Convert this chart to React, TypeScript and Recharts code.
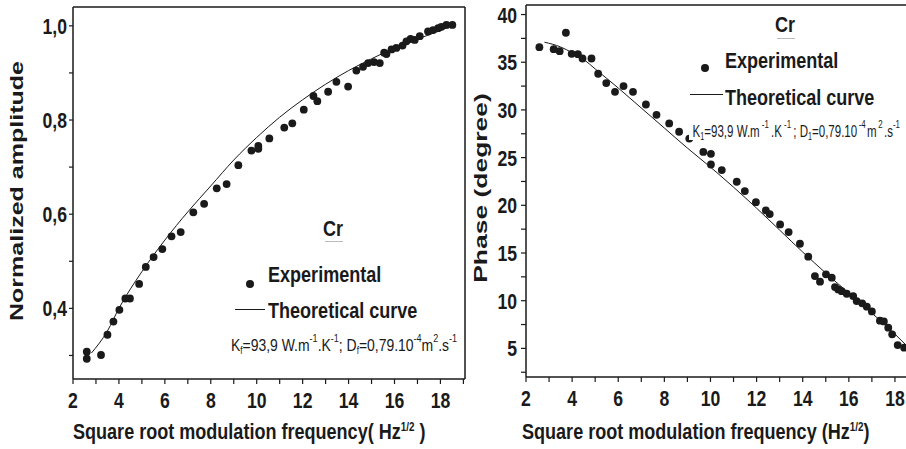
import React from 'react';
import { ComposedChart, Scatter, Line, XAxis, YAxis, ReferenceLine } from 'recharts';

// Normalized amplitude vs sqrt(f)
const ampX = [2.6, 2.6, 3.22, 3.5, 3.76, 4.02, 4.28, 4.48, 4.88, 5.17, 5.51, 5.89, 6.29, 6.69, 7.24, 7.71, 8.26, 8.69, 9.2, 9.77, 10.07, 10.07, 10.55, 11.2, 11.55, 12.05, 12.47, 12.64, 13.11, 13.47, 13.98, 14.34, 14.63, 14.85, 15.11, 15.36, 15.55, 15.65, 15.87, 16.08, 16.35, 16.52, 16.7, 16.88, 17.1, 17.46, 17.68, 17.9, 18.04, 18.26, 18.52];
const ampY = [0.308, 0.293, 0.301, 0.344, 0.372, 0.397, 0.421, 0.421, 0.452, 0.488, 0.509, 0.526, 0.553, 0.562, 0.604, 0.622, 0.655, 0.664, 0.704, 0.735, 0.745, 0.739, 0.761, 0.784, 0.793, 0.822, 0.851, 0.84, 0.86, 0.881, 0.871, 0.905, 0.913, 0.921, 0.923, 0.921, 0.943, 0.94, 0.95, 0.953, 0.958, 0.967, 0.972, 0.97, 0.978, 0.988, 0.991, 0.995, 0.998, 1.002, 1.002];
const ampCurveX = [2.8, 3.5, 4, 5, 6, 7, 8, 9, 10, 11, 12, 13, 14, 15, 16, 17, 18, 18.5];
const ampCurveY = [0.305, 0.352, 0.4, 0.478, 0.545, 0.605, 0.66, 0.715, 0.763, 0.806, 0.843, 0.876, 0.905, 0.93, 0.953, 0.972, 0.99, 1.0];

// Phase vs sqrt(f)
const phaseX = [2.58, 3.2, 3.46, 3.73, 3.98, 4.25, 4.45, 4.84, 5.13, 5.48, 5.86, 6.23, 6.64, 7.2, 7.66, 8.21, 8.64, 9.08, 9.69, 10.02, 10.02, 10.49, 11.14, 11.49, 11.97, 12.4, 12.57, 13.02, 13.39, 13.88, 14.24, 14.53, 14.75, 15.01, 15.26, 15.4, 15.54, 15.69, 15.91, 16.19, 16.34, 16.58, 16.78, 17.0, 17.35, 17.52, 17.71, 17.88, 18.12, 18.4];
const phaseY = [36.58, 36.37, 36.16, 38.09, 35.88, 35.84, 35.39, 35.39, 33.79, 32.81, 31.9, 32.5, 31.9, 30.57, 29.49, 28.58, 27.71, 27.0, 25.6, 25.4, 24.28, 23.69, 22.47, 21.49, 20.33, 19.46, 19.08, 18.0, 17.19, 15.97, 14.61, 12.58, 11.99, 12.76, 12.41, 11.43, 11.18, 11.0, 10.73, 10.48, 9.96, 9.72, 9.37, 8.88, 7.9, 7.83, 7.17, 6.47, 5.35, 5.07];
const phaseCurveX = [2.8, 3.5, 4, 4.5, 5, 6, 7, 8, 9, 10, 11, 12, 13, 14, 15, 16, 17, 18, 18.5];
const phaseCurveY = [37.1, 36.6, 36.0, 35.3, 34.3, 32.3, 30.2, 28.1, 26.0, 24.0, 21.9, 19.7, 17.4, 15.1, 12.9, 10.8, 8.7, 6.5, 5.3];

const xTicks = [2, 3, 4, 5, 6, 7, 8, 9, 10, 11, 12, 13, 14, 15, 16, 17, 18, 19];
const ampYTicks = [0.3, 0.4, 0.5, 0.6, 0.7, 0.8, 0.9, 1.0];
const phaseYTicks = [2.5, 5, 7.5, 10, 12.5, 15, 17.5, 20, 22.5, 25, 27.5, 30, 32.5, 35, 37.5, 40];

const zip = (xs: number[], ys: number[]) => xs.map((x, i) => ({ x, y: ys[i] }));
const ampPts = zip(ampX, ampY);
const ampCurve = zip(ampCurveX, ampCurveY);
const phasePts = zip(phaseX, phaseY);
const phaseCurve = zip(phaseCurveX, phaseCurveY);

const FONT = '"Liberation Sans", Arial, Helvetica, sans-serif';
const INK = '#1a1a1a';
const NARROW = 0.82;

const Dot = (props: any) => {
  const { cx, cy } = props;
  if (cx == null || cy == null) return <g />;
  return <circle cx={cx} cy={cy} r={3.9} fill={INK} />;
};

const tickText = (x: number, y: number, anchor: string, dy: number, label: string) => (
  <text
    transform={`translate(${x},${y}) scale(0.8,1)`}
    textAnchor={anchor}
    dy={dy}
    fontFamily={FONT}
    fontWeight="bold"
    fontSize={22}
    fill={INK}
  >
    {label}
  </text>
);

const XTick = (p: any) => {
  const v = p.payload.value;
  if (v % 2 !== 0) return <g />;
  return tickText(p.x, p.y, 'middle', 15.5, String(v));
};

const AmpTick = (p: any) => {
  const v = p.payload.value;
  if (Math.round(v * 10) % 2 !== 0) return <g />;
  return tickText(p.x, p.y, 'end', 8, v.toFixed(1).replace('.', ','));
};

const PhaseTick = (p: any) => {
  const v = p.payload.value;
  if (v % 5 !== 0) return <g />;
  return tickText(p.x, p.y, 'end', 8, String(v));
};

const axisLine = { stroke: INK, strokeWidth: 1.5 };
const tickLine = { stroke: INK, strokeWidth: 1.2 };

const txt = (
  left: number,
  top: number,
  size: number,
  bold: boolean,
  content: React.ReactNode,
  scale = NARROW,
  extra: React.CSSProperties = {}
) => (
  <div
    style={{
      position: 'absolute',
      left,
      top,
      fontFamily: FONT,
      fontSize: size,
      fontWeight: bold ? 'bold' : 'normal',
      lineHeight: 1,
      whiteSpace: 'nowrap',
      color: INK,
      transform: `scaleX(${scale})`,
      transformOrigin: 'left top',
      ...extra,
    }}
  >
    {content}
  </div>
);

const vtxt = (cx: number, cy: number, stretch: number, content: string) => (
  <div
    style={{
      position: 'absolute',
      left: cx,
      top: cy,
      fontFamily: FONT,
      fontSize: 18,
      fontWeight: 'bold',
      lineHeight: 1,
      whiteSpace: 'nowrap',
      color: INK,
      transform: `translate(-50%,-50%) rotate(-90deg) scaleX(${stretch})`,
    }}
  >
    {content}
  </div>
);

const sup = (s: string, gap = 0) => (
  <span style={{ fontSize: 11, position: 'relative', top: -9, margin: `0 ${gap}px` }}>{s}</span>
);
const sub = (s: string) => (
  <span style={{ fontSize: 10, position: 'relative', top: 3 }}>{s}</span>
);

const dotMark = (cx: number, cy: number) => (
  <div
    style={{
      position: 'absolute',
      left: cx - 3.9,
      top: cy - 3.9,
      width: 7.8,
      height: 7.8,
      borderRadius: '50%',
      background: INK,
    }}
  />
);

const hLine = (x1: number, x2: number, y: number, color = INK) => (
  <div style={{ position: 'absolute', left: x1, top: y, width: x2 - x1, height: 1, background: color }} />
);

export default function App() {
  return (
    <div
      style={{
        position: 'absolute',
        left: 0,
        top: 0,
        width: 906,
        height: 449,
        overflow: 'hidden',
        background: '#fff',
      }}
    >
      <div style={{ position: 'absolute', left: 0, top: 0 }}>
        {/* plot area: x 73..465, y 7..379 */}
        <ComposedChart width={470} height={449} margin={{ top: 7, right: 5, left: 33, bottom: 30 }}>
          <XAxis
            type="number"
            dataKey="x"
            domain={[2, 19.07]}
            ticks={xTicks}
            interval={0}
            height={40}
            tickSize={5}
            tickMargin={8}
            tick={XTick}
            axisLine={axisLine}
            tickLine={tickLine}
            allowDataOverflow
          />
          <YAxis
            type="number"
            dataKey="y"
            domain={[0.25, 1.04]}
            ticks={ampYTicks}
            interval={0}
            width={40}
            tickSize={4}
            tickMargin={2}
            tick={AmpTick}
            axisLine={axisLine}
            tickLine={tickLine}
            allowDataOverflow
          />
          <ReferenceLine y={1.04} stroke={INK} strokeWidth={1.5} />
          <ReferenceLine x={19.07} stroke={INK} strokeWidth={1.5} />
          <Line
            data={ampCurve}
            dataKey="y"
            type="monotone"
            stroke={INK}
            strokeWidth={1}
            dot={false}
            isAnimationActive={false}
          />
          <Scatter data={ampPts} dataKey="y" shape={Dot} isAnimationActive={false} />
        </ComposedChart>
      </div>

      <div style={{ position: 'absolute', left: 445, top: 0 }}>
        {/* plot area: x 526..918 (clipped at 906), y 5..377 */}
        <ComposedChart width={478} height={449} margin={{ top: 5, right: 5, left: 41, bottom: 32 }}>
          <XAxis
            type="number"
            dataKey="x"
            domain={[2, 19]}
            ticks={xTicks}
            interval={0}
            height={40}
            tickSize={5}
            tickMargin={8}
            tick={XTick}
            axisLine={axisLine}
            tickLine={tickLine}
            allowDataOverflow
          />
          <YAxis
            type="number"
            dataKey="y"
            domain={[2, 41]}
            ticks={phaseYTicks}
            interval={0}
            width={40}
            tickSize={5}
            tickMargin={4}
            tick={PhaseTick}
            axisLine={axisLine}
            tickLine={tickLine}
            allowDataOverflow
          />
          <ReferenceLine y={41} stroke={INK} strokeWidth={1.5} />
          <ReferenceLine x={19} stroke={INK} strokeWidth={1.5} />
          <Line
            data={phaseCurve}
            dataKey="y"
            type="monotone"
            stroke={INK}
            strokeWidth={1}
            dot={false}
            isAnimationActive={false}
          />
          <Scatter data={phasePts} dataKey="y" shape={Dot} isAnimationActive={false} />
        </ComposedChart>
      </div>

      {/* left panel legend */}
      {txt(323, 218, 22, true, 'Cr')}
      {hLine(325, 343, 241, '#bbbbbb')}
      {dotMark(250, 284)}
      {txt(268, 264, 22, true, 'Experimental')}
      {hLine(235, 265, 309)}
      {txt(268, 300, 22, true, 'Theoretical curve')}
      {txt(
        231,
        337,
        17,
        false,
        <>
          K{sub('f')}=93,9 W.m{sup('-1')}.K{sup('-1')}; D{sub('f')}=0,79.10{sup('-4')}m{sup('2')}.s{sup('-1')}
        </>
      )}

      {/* right panel legend */}
      {txt(775, 14, 22, true, 'Cr')}
      {hLine(777, 795, 38, '#bbbbbb')}
      {dotMark(705, 68)}
      {txt(725, 50, 22, true, 'Experimental')}
      {hLine(690, 723, 94)}
      {txt(725, 87, 22, true, 'Theoretical curve')}
      {txt(
        689,
        124,
        16,
        false,
        <>
          K{sub('1')}=93,9 W.m{sup('-1', 3)}.K{sup('-1', 3)}; D{sub('1')}=0,79.10{sup('-4', 2)}m{sup('2', 2)}.s{sup('-1')}
        </>,
        0.72,
        { background: '#fff', paddingLeft: 5 }
      )}

      {/* axis titles */}
      {txt(73, 421, 22, true, <>Square root modulation frequency( Hz<sup style={{ fontSize: 12 }}>1/2</sup> )</>)}
      {txt(522, 421, 22, true, <>Square root modulation frequency (Hz<sup style={{ fontSize: 12 }}>1/2</sup>)</>)}
      {vtxt(17, 191, 1.39, 'Normalized amplitude')}
      {vtxt(481, 188, 1.47, 'Phase (degree)')}
    </div>
  );
}
